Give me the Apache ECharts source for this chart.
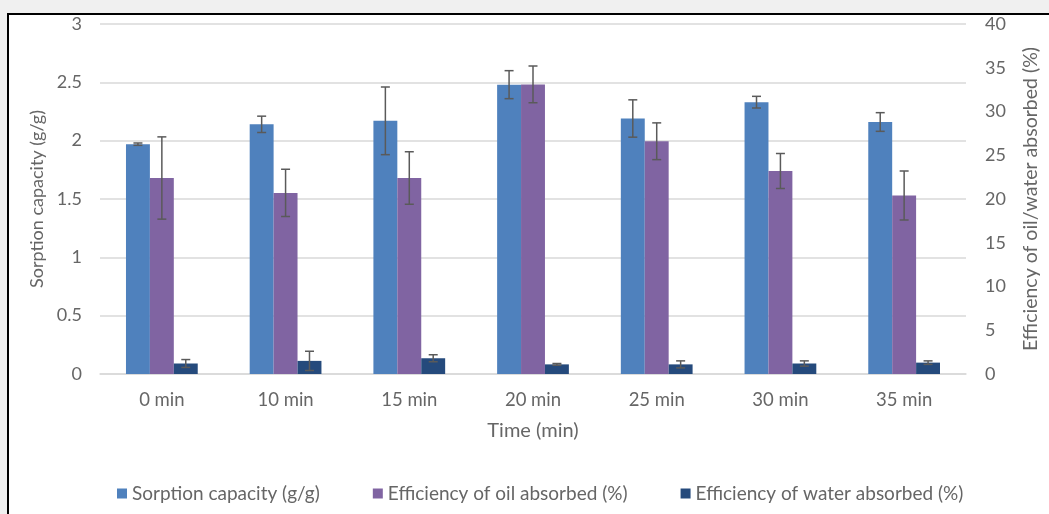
<!DOCTYPE html>
<html>
<head>
<meta charset="utf-8">
<script src="https://cdn.jsdelivr.net/npm/echarts@6/dist/echarts.min.js"></script>
<style>
  html, body { margin: 0; padding: 0; background: #f0f0f0; overflow: hidden; }
  #frame { position: absolute; left: 7px; top: 13px; width: 1100px; height: 600px; background: #fff; border: 2px solid #000; }
  #chart { position: absolute; left: 0; top: 0; width: 1049px; height: 514px; }
</style>
</head>
<body>
<div id="frame"></div>
<div id="chart"></div>
<script>
const categories = ['0 min', '10 min', '15 min', '20 min', '25 min', '30 min', '35 min'];
const sorption = [1.97, 2.14, 2.17, 2.48, 2.19, 2.33, 2.16];
const sorptionErr = [0.01, 0.07, 0.29, 0.12, 0.16, 0.05, 0.08];
const oilEff = [22.4, 20.7, 22.4, 33.1, 26.6, 23.2, 20.4];
const oilErr = [4.7, 2.7, 3.0, 2.1, 2.1, 2.0, 2.8];
const waterEff = [1.2, 1.5, 1.8, 1.1, 1.1, 1.2, 1.3];
const waterErr = [0.45, 1.1, 0.4, 0.1, 0.4, 0.3, 0.2];
const seriesNames = ['Sorption capacity (g/g)', 'Efficiency of oil absorbed (%)', 'Efficiency of water absorbed (%)'];

const FONT = 'Lato';
const TXT = '#666666';
const GAP = 0.42;

function errSeries(vals, errs, idx, yAxisIndex) {
  return {
    type: 'custom',
    yAxisIndex: yAxisIndex,
    z: 5,
    silent: true,
    data: vals.map((v, i) => [i, v, errs[i]]),
    encode: { x: 0, y: 1 },
    renderItem: function (params, api) {
      const x = api.value(0), y = api.value(1), e = api.value(2);
      const band = api.size([1, 0])[0];
      const bw = band * (1 - GAP) / 3;
      const off = (idx - 1) * bw;
      const top = api.coord([x, y + e]);
      const bot = api.coord([x, y - e]);
      const cx = top[0] + off;
      const cap = 4.5;
      const st = { stroke: '#5a5a5a', lineWidth: 1.5 };
      return {
        type: 'group',
        children: [
          { type: 'line', shape: { x1: cx, y1: top[1], x2: cx, y2: bot[1] }, style: st },
          { type: 'line', shape: { x1: cx - cap, y1: top[1], x2: cx + cap, y2: top[1] }, style: st },
          { type: 'line', shape: { x1: cx - cap, y1: bot[1], x2: cx + cap, y2: bot[1] }, style: st }
        ]
      };
    }
  };
}

const chart = echarts.init(document.getElementById('chart'), null, { renderer: 'canvas' });
chart.setOption({
  backgroundColor: 'transparent',
  animation: false,
  textStyle: { fontFamily: FONT },
  grid: { left: 100, right: 82, top: 24, bottom: 140, containLabel: false },
  legend: {
    data: seriesNames,
    left: 112,
    top: 479,
    itemWidth: 10,
    itemHeight: 10,
    itemGap: 53,
    icon: 'rect',
    textStyle: { color: TXT, fontSize: 19, fontFamily: FONT, padding: [0, 0, 0, 0] }
  },
  xAxis: {
    type: 'category',
    data: categories,
    name: 'Time (min)',
    nameLocation: 'middle',
    nameGap: 47,
    nameTextStyle: { color: TXT, fontSize: 20, fontFamily: FONT },
    axisLine: { show: true, lineStyle: { color: '#d9d9d9', width: 1.5 } },
    axisTick: { show: false },
    axisLabel: { color: TXT, fontSize: 18.5, fontFamily: FONT, margin: 17 }
  },
  yAxis: [
    {
      type: 'value', min: 0, max: 3, interval: 0.5,
      name: 'Sorption capacity (g/g)',
      nameLocation: 'middle',
      nameGap: 54,
      nameTextStyle: { color: TXT, fontSize: 18, fontFamily: FONT },
      axisLine: { show: false }, axisTick: { show: false },
      axisLabel: { color: TXT, fontSize: 18, fontFamily: FONT, margin: 18 },
      splitLine: { lineStyle: { color: '#d9d9d9', width: 1.5 } }
    },
    {
      type: 'value', min: 0, max: 40, interval: 5,
      name: 'Efficiency of oil/water absorbed (%)',
      nameLocation: 'middle',
      nameGap: 55,
      nameTextStyle: { color: TXT, fontSize: 19.5, fontFamily: FONT },
      axisLine: { show: false }, axisTick: { show: false },
      axisLabel: { color: TXT, fontSize: 18, fontFamily: FONT, margin: 19 },
      splitLine: { show: false }
    }
  ],
  series: [
    { name: seriesNames[0], type: 'bar', yAxisIndex: 0, data: sorption, barGap: '0%', barCategoryGap: (GAP * 100) + '%', itemStyle: { color: '#4F81BD' } },
    { name: seriesNames[1], type: 'bar', yAxisIndex: 1, data: oilEff, barGap: '0%', barCategoryGap: (GAP * 100) + '%', itemStyle: { color: '#8064A2' } },
    { name: seriesNames[2], type: 'bar', yAxisIndex: 1, data: waterEff, barGap: '0%', barCategoryGap: (GAP * 100) + '%', itemStyle: { color: '#254A7C' } },
    errSeries(sorption, sorptionErr, 0, 0),
    errSeries(oilEff, oilErr, 1, 1),
    errSeries(waterEff, waterErr, 2, 1)
  ]
});
</script>
</body>
</html>
